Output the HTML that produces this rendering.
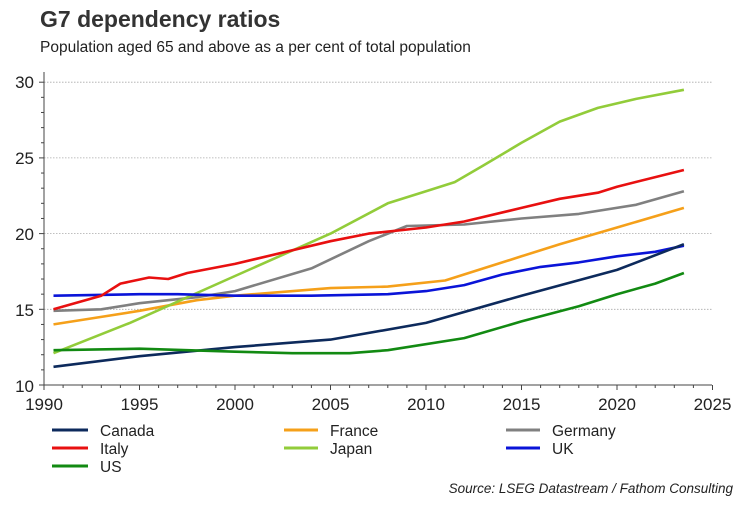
<!DOCTYPE html>
<html><head><meta charset="utf-8"><style>
body{margin:0;background:#fff;width:750px;height:500px;overflow:hidden;font-family:"Liberation Sans",Arial,sans-serif}
</style></head><body>
<svg id="s" width="750" height="500" xmlns="http://www.w3.org/2000/svg" font-family="Liberation Sans, Arial, sans-serif">
<text x="40" y="27" font-size="23" font-weight="bold" fill="#333">G7 dependency ratios</text>
<text x="40" y="52" font-size="15.5" fill="#222">Population aged 65 and above as a per cent of total population</text>
<g id="grid"></g>
<g font-size="17" fill="#222" text-anchor="end">
<text x="34" y="88">30</text><text x="34" y="164">25</text><text x="34" y="240">20</text><text x="34" y="316">15</text><text x="34" y="392">10</text>
</g>
<g font-size="17" fill="#222" text-anchor="middle">
<text x="44" y="410">1990</text><text x="139.5" y="410">1995</text><text x="235" y="410">2000</text><text x="330.5" y="410">2005</text><text x="426" y="410">2010</text><text x="521.5" y="410">2015</text><text x="617" y="410">2020</text><text x="712.5" y="410">2025</text>
</g>
<g id="lines" fill="none" stroke-width="2.6" stroke-linejoin="round"></g>
<g font-size="15.5" fill="#222">
<line x1="52" y1="430" x2="88" y2="430" stroke="#0d2a5c" stroke-width="3"/><text x="100" y="436">Canada</text>
<line x1="284" y1="430" x2="318" y2="430" stroke="#f5a01a" stroke-width="3"/><text x="330" y="436">France</text>
<line x1="506" y1="430" x2="540" y2="430" stroke="#808080" stroke-width="3"/><text x="552" y="436">Germany</text>
<line x1="52" y1="448" x2="88" y2="448" stroke="#e81010" stroke-width="3"/><text x="100" y="454">Italy</text>
<line x1="284" y1="448" x2="318" y2="448" stroke="#92cc3a" stroke-width="3"/><text x="330" y="454">Japan</text>
<line x1="506" y1="448" x2="540" y2="448" stroke="#0a14d8" stroke-width="3"/><text x="552" y="454">UK</text>
<line x1="52" y1="466" x2="88" y2="466" stroke="#128a12" stroke-width="3"/><text x="100" y="472">US</text>
</g>
<text x="733" y="493" font-size="13.5" font-style="italic" fill="#222" text-anchor="end">Source: LSEG Datastream / Fathom Consulting</text>
</svg>
<script>
var X=function(y){return 44+(y-1990)*19.1},Y=function(v){return 385-(v-10)*15.14};
var g='';
for(var v=15;v<=30;v+=5)g+='<line x1="44" x2="712" y1="'+Y(v)+'" y2="'+Y(v)+'" stroke="#aaa" stroke-dasharray="1.5,1.5" stroke-width="0.8"/>';
g+='<line x1="44" y1="72" x2="44" y2="385" stroke="#444"/><line x1="44" y1="385" x2="712" y2="385" stroke="#444"/>';
for(var v=10;v<=30;v++)g+='<line x1="'+(v%5?41:39)+'" x2="44" y1="'+Y(v)+'" y2="'+Y(v)+'" stroke="#444"/>';
for(var y=1990;y<=2025;y++)g+='<line x1="'+X(y)+'" x2="'+X(y)+'" y1="385" y2="'+(y%5?388:390)+'" stroke="#444"/>';
document.getElementById('grid').innerHTML=g;
var D=[
["#808080",[[1990.5,14.9],[1993,15.0],[1995,15.4],[1998,15.8],[2000,16.2],[2004,17.7],[2007,19.5],[2009,20.5],[2012,20.6],[2015,21.0],[2018,21.3],[2021,21.9],[2023.5,22.8]]],
["#f5a01a",[[1990.5,14.0],[1993,14.5],[1995,14.9],[1998,15.6],[2000,15.9],[2005,16.4],[2008,16.5],[2011,16.9],[2015,18.5],[2017,19.3],[2020,20.4],[2023.5,21.7]]],
["#92cc3a",[[1990.5,12.1],[1994.5,14.1],[2000,17.2],[2005,20.0],[2008,22.0],[2010,22.8],[2011.5,23.4],[2013,24.5],[2015,26.0],[2017,27.4],[2019,28.3],[2021,28.9],[2023.5,29.5]]],
["#0a14d8",[[1990.5,15.9],[1995,16.0],[1997,16.0],[2000,15.9],[2004,15.9],[2008,16.0],[2010,16.2],[2012,16.6],[2014,17.3],[2016,17.8],[2018,18.1],[2020,18.5],[2022,18.8],[2023.5,19.2]]],
["#0d2a5c",[[1990.5,11.2],[1995,11.9],[2000,12.5],[2005,13.0],[2010,14.1],[2015,15.9],[2020,17.6],[2023.5,19.3]]],
["#e81010",[[1990.5,15.0],[1993,15.9],[1994,16.7],[1995.5,17.1],[1996.5,17.0],[1997.5,17.4],[2000,18.0],[2005,19.5],[2007,20.0],[2010,20.4],[2012,20.8],[2015,21.7],[2017,22.3],[2019,22.7],[2020,23.1],[2023.5,24.2]]],
["#128a12",[[1990.5,12.3],[1995,12.4],[2000,12.2],[2003,12.1],[2006,12.1],[2008,12.3],[2012,13.1],[2015,14.2],[2018,15.2],[2020,16.0],[2022,16.7],[2023.5,17.4]]]
];
var h='';
D.forEach(function(s){h+='<polyline stroke="'+s[0]+'" points="'+s[1].map(function(p){return X(p[0]).toFixed(1)+','+Y(p[1]).toFixed(1)}).join(' ')+'"/>'});
document.getElementById('lines').innerHTML=h;
</script>
</body></html>
